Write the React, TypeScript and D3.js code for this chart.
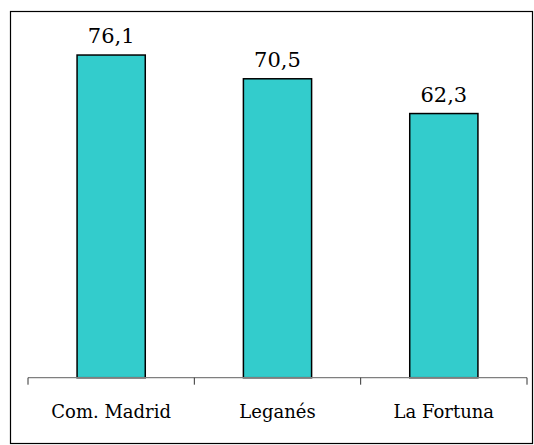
import React from "react";
import * as d3 from "d3";

const categories = ["Com. Madrid", "Leganés", "La Fortuna"];
const values = [76.1, 70.5, 62.3];
const valueLabels = ["76,1", "70,5", "62,3"];

const FONT = "'DejaVu Serif', 'Liberation Serif', serif";

export default function App() {
  const W = 534, H = 445;
  const x = d3.scaleBand<string>().domain(categories).range([28, 527]).padding(0);
  const y = d3.scaleLinear().domain([0, 80]).range([377.7, 377.7 - 80 * 4.24]);
  const barW = x.bandwidth() * 0.41;
  const ticks = [...categories.map((c) => x(c)!), 527];
  return (
    <svg width={W} height={H} style={{ position: "absolute", left: 0, top: 0, fontFamily: FONT }}>
      <rect x={0} y={0} width={W} height={H} fill="#fff" />
      <rect x={10.5} y={11.5} width={522} height={432} fill="none" stroke="#000" strokeWidth={1.2} />
      {categories.map((c, i) => {
        const cx = x(c)! + x.bandwidth() / 2;
        return (
          <g key={c}>
            <rect
              x={cx - barW / 2}
              y={y(values[i])}
              width={barW}
              height={y(0) - y(values[i])}
              fill="#33CCCC"
              stroke="#000"
              strokeWidth={1.5}
            />
            <text x={cx} y={y(values[i]) - 12} textAnchor="middle" style={{ fontFamily: FONT }} fontSize={21} fill="#000">
              {valueLabels[i]}
            </text>
            <text x={cx} y={418} textAnchor="middle" style={{ fontFamily: FONT }} fontSize={18} fill="#000">
              {c}
            </text>
          </g>
        );
      })}
      <line x1={28} x2={527} y1={y(0)} y2={y(0)} stroke="#7f7f7f" strokeWidth={1.3} />
      {ticks.map((t, i) => (
        <line key={i} x1={t} x2={t} y1={y(0)} y2={y(0) + 7} stroke="#333" strokeWidth={1} />
      ))}
    </svg>
  );
}
